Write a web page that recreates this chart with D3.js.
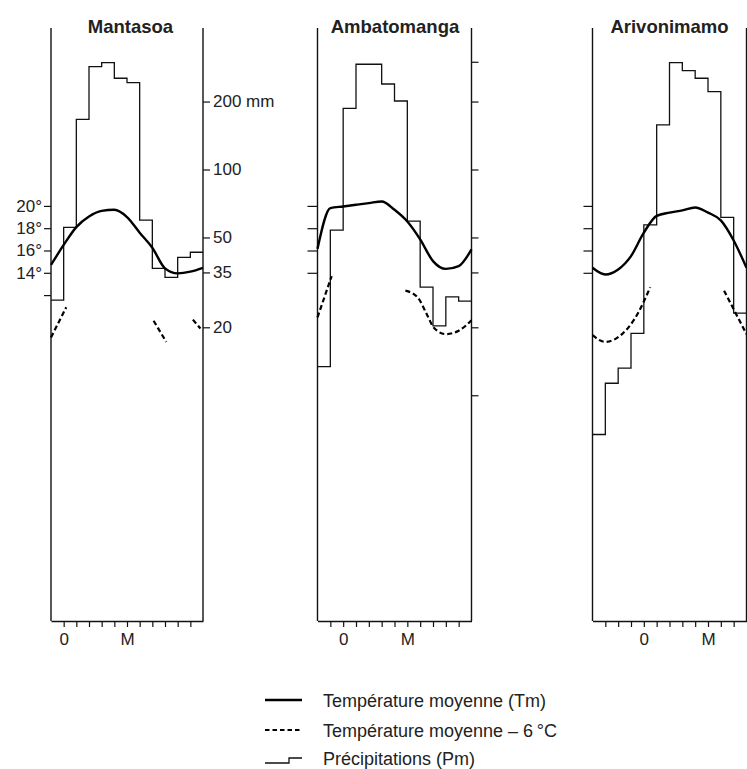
<!DOCTYPE html>
<html><head><meta charset="utf-8">
<script src="https://cdn.jsdelivr.net/npm/d3@7"></script>
<style>
body{margin:0;background:#fff}
svg{display:block}
text{font-family:"Liberation Sans",Arial,Helvetica,sans-serif;fill:#222}
</style>
</head><body>
<svg id="chart" width="747" height="769"></svg>
<script>
// ---------- DATA ----------
const stations = ["Mantasoa", "Ambatomanga", "Arivonimamo"];

// monthly precipitation (mm), 12 months
const precipMantasoa    = [26.4, 55.4, 166.9, 285.5, 297.3, 253.6, 242.4, 59.7, 36.5, 33.3, 40.8, 43.0];
const precipAmbatomanga = [13.4, 53.9, 186.7, 292.5, 292.5, 239.2, 201.1, 59.1, 30.1, 20.3, 27.3, 26.1];
const precipArivonimamo = [6.7, 11.3, 13.2, 18.8, 56.8, 157.5, 297.3, 274.0, 253.6, 221.2, 61.4, 23.1];

// mean temperature (°C) read at the 13 month boundaries
const tempMantasoa    = [14.7, 16.5, 18.1, 19.05, 19.55, 19.65, 19.0, 17.6, 16.25, 14.4, 13.95, 14.1, 14.45];
const tempAmbatomanga = [16.15, 19.8, 19.95, 20.1, 20.25, 20.4, 19.65, 18.6, 17.0, 15.05, 14.35, 14.6, 16.1];
const tempArivonimamo = [14.45, 13.85, 14.3, 15.5, 17.6, 19.1, 19.4, 19.6, 19.85, 19.4, 18.7, 16.9, 14.45];

// mean temperature - 6 °C, visible pieces only: [month position, °C]
const dashMantasoa    = [[[0, 8.2], [1.2, 10.9]], [[8.1, 9.7], [9.1, 7.8]], [[11.2, 9.8], [11.8, 9.0]]];
const dashAmbatomanga = [[[0, 10.0], [1.1, 13.7]],
                         [[6.85, 12.4], [7.8, 11.8], [8.55, 10.2], [9.05, 9.1], [10, 8.5], [11, 8.8], [12, 9.75]]];
const dashArivonimamo = [[[0, 8.4], [1, 7.8], [2.3, 8.5], [3.3, 9.9], [4.5, 12.7]],
                         [[10.25, 12.4], [12, 8.5]]];

// tick values / labels
const tempTicksFirst  = [20, 18, 16, 14, 12];
const tempLabelsFirst = ["20°", "18°", "16°", "14°", ""];
const tempTicksOther  = [20, 18, 16, 14];
const precipTicksFirst  = [200, 100, 50, 35, 20];
const precipLabelsFirst = ["200 mm", "100", "50", "35", "20"];
const precipTicksOther  = [300, 200, 100, 50, 35, 20, 10];
const monthLabelsMantasoa    = ["0", "", "", "", "", "M", "", "", "", "", ""];
const monthLabelsAmbatomanga = ["", "0", "", "", "", "", "M", "", "", "", ""];
const monthLabelsArivonimamo = ["", "", "", "0", "", "", "", "", "M", "", ""];

const legendLabels = ["Température moyenne (Tm)", "Température moyenne \u2013 6\u2009\u00b0C", "Précipitations (Pm)"];

// ---------- LAYOUT ----------
const svg = d3.select("#chart");
svg.append("rect").attr("width", 747).attr("height", 769).attr("fill", "#fff");

const frameTop = 28, frameBottom = 621;
const panelLeft = [51, 317.5, 592.5];
const panelWidth = [152, 154, 154];
const titleX = [130.5, 395, 669.5];

const yT = d3.scaleLinear().domain([12, 20]).range([295.1, 205.9]);
const yP = d3.scaleLog().domain([1, 100]).range([frameBottom, 169.5]);

const panels = [
  {name: stations[0], p: precipMantasoa, t: tempMantasoa, d: dashMantasoa, m: monthLabelsMantasoa,
   tt: tempTicksFirst, tl: tempLabelsFirst, pt: precipTicksFirst, pl: precipLabelsFirst, lt: 7},
  {name: stations[1], p: precipAmbatomanga, t: tempAmbatomanga, d: dashAmbatomanga, m: monthLabelsAmbatomanga,
   tt: tempTicksOther, tl: null, pt: precipTicksOther, pl: null, lt: 10},
  {name: stations[2], p: precipArivonimamo, t: tempArivonimamo, d: dashArivonimamo, m: monthLabelsArivonimamo,
   tt: tempTicksOther, tl: null, pt: precipTicksOther, pl: null, lt: 9}
];

const ink = "#111";
const txt = "#2a2a2a";
const fontFam = "Liberation Sans, Arial, sans-serif";

panels.forEach((pn, i) => {
  const x0 = panelLeft[i], x1 = panelLeft[i] + panelWidth[i];
  const x = d3.scaleLinear().domain([0, 12]).range([x0, x1]);
  const g = svg.append("g");

  // vertical frame lines
  [x0, x1].forEach(xx => g.append("line")
    .attr("x1", xx).attr("x2", xx).attr("y1", frameTop).attr("y2", frameBottom)
    .attr("stroke", ink).attr("stroke-width", 1.4));

  // left temperature axis
  const ax = d3.axisLeft(yT).tickValues(pn.tt).tickSize(pn.lt).tickPadding(2)
    .tickFormat((d, k) => pn.tl ? pn.tl[k] : "");
  const ga = g.append("g").attr("transform", `translate(${x0},0)`).call(ax);
  ga.select(".domain").remove();
  ga.selectAll("line").attr("stroke", ink).attr("stroke-width", 1.2);
  ga.selectAll("text").attr("font-size", 17).attr("font-family", fontFam).attr("fill", txt);

  // right precipitation axis
  const ar = d3.axisRight(yP).tickValues(pn.pt).tickSize(7).tickPadding(3)
    .tickFormat((d, k) => pn.pl ? pn.pl[k] : "");
  const gr = g.append("g").attr("transform", `translate(${x1},0)`).call(ar);
  gr.select(".domain").remove();
  gr.selectAll("line").attr("stroke", ink).attr("stroke-width", 1.2);
  gr.selectAll("text").attr("font-size", 17).attr("font-family", fontFam).attr("fill", txt);

  // bottom month axis
  const ab = d3.axisBottom(x).tickValues(d3.range(1, 12)).tickSize(6).tickSizeOuter(0).tickPadding(6)
    .tickFormat((d, k) => pn.m[k]);
  const gb = g.append("g").attr("transform", `translate(0,${frameBottom})`).call(ab);
  gb.select(".domain").attr("stroke", ink).attr("stroke-width", 1.4);
  gb.selectAll("line").attr("stroke", ink).attr("stroke-width", 1.2);
  gb.selectAll("text").attr("font-size", 17).attr("font-family", fontFam).attr("fill", txt);

  // title
  g.append("text").attr("x", titleX[i]).attr("y", 32.5).attr("text-anchor", "middle")
    .attr("font-size", 18.5).attr("font-weight", "bold").attr("fill", "#111").text(pn.name);

  // precipitation steps
  const stepPts = pn.p.map((v, k) => [k, v]).concat([[12, pn.p[11]]]);
  g.append("path").datum(stepPts)
    .attr("d", d3.line().x(d => x(d[0])).y(d => yP(d[1])).curve(d3.curveStepAfter))
    .attr("fill", "none").attr("stroke", ink).attr("stroke-width", 1.3);

  // mean temperature
  g.append("path").datum(pn.t.map((v, k) => [k, v]))
    .attr("d", d3.line().x(d => x(d[0])).y(d => yT(d[1])).curve(d3.curveMonotoneX))
    .attr("fill", "none").attr("stroke", "#000").attr("stroke-width", 2.4).attr("stroke-linejoin", "round");

  // mean temperature - 6
  pn.d.forEach(seg => {
    g.append("path").datum(seg)
      .attr("d", d3.line().x(d => x(d[0])).y(d => yT(d[1])).curve(d3.curveMonotoneX))
      .attr("fill", "none").attr("stroke", "#000").attr("stroke-width", 2.2)
      .attr("stroke-dasharray", "5,3");
  });
});

// ---------- LEGEND ----------
const lg = svg.append("g");
const lx0 = 265, lx1 = 302, ltx = 323;
const rowY = [700, 730, 758];
lg.append("line").attr("x1", lx0).attr("x2", lx1).attr("y1", rowY[0]).attr("y2", rowY[0])
  .attr("stroke", "#000").attr("stroke-width", 2.4);
lg.append("line").attr("x1", lx0).attr("x2", lx1).attr("y1", rowY[1]).attr("y2", rowY[1])
  .attr("stroke", "#000").attr("stroke-width", 2.2).attr("stroke-dasharray", "4.5,3");
lg.append("path").attr("d", `M${lx0},${rowY[2] + 5}H${lx0 + 24}V${rowY[2]}H${lx1}`)
  .attr("fill", "none").attr("stroke", ink).attr("stroke-width", 1.3);
legendLabels.forEach((t, k) => {
  lg.append("text").attr("x", ltx).attr("y", rowY[k] + 6.6).attr("font-size", 18).attr("fill", txt).text(t);
});
</script>
</body></html>
